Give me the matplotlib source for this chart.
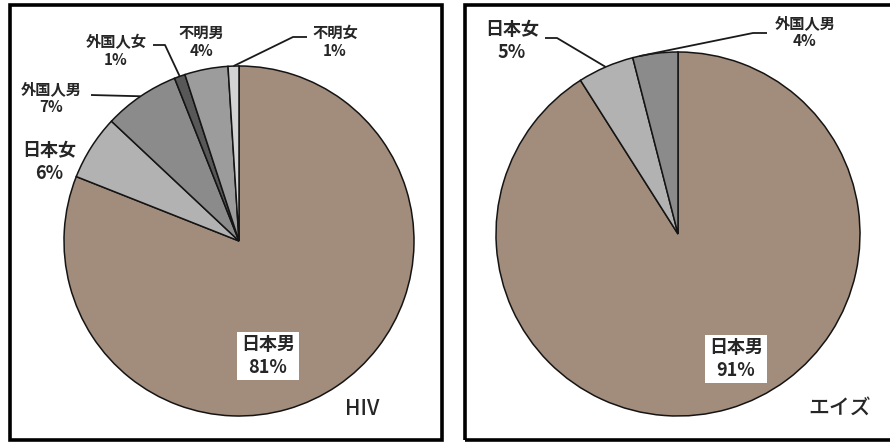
import numpy as np
import matplotlib
matplotlib.use('Agg')
from matplotlib import pyplot as plt
from matplotlib.patches import Rectangle

plt.rcParams['font.family'] = ['Noto Sans CJK JP', 'DejaVu Sans']

# HIV / AIDS reports by nationality and sex (percent)
hiv_labels = ['日本男', '日本女', '外国人男', '外国人女', '不明男', '不明女']
hiv_values = [81, 6, 7, 1, 4, 1]
aids_labels = ['日本男', '日本女', '外国人男']
aids_values = [91, 5, 4]

colors = {
    '日本男': '#a28c7c',
    '日本女': '#b2b2b2',
    '外国人男': '#8b8b8b',
    '外国人女': '#585858',
    '不明男': '#9c9c9c',
    '不明女': '#d3d3d3',
}

W, H = 890, 443
TEXT = '#262626'


def px_axes(fig, cx, cy, r):
    ''' square axes (pixel centre/radius) so the pie has radius 1 in data units '''
    ax = fig.add_axes([(cx - r) / W, (H - cy - r) / H, 2 * r / W, 2 * r / H])
    return ax


def to_data(p, cx, cy, r):
    return ((p[0] - cx) / r, (cy - p[1]) / r)


def draw_panel(fig, cx, cy, r, labels, values, layout, title, title_pos):
    ax = px_axes(fig, cx, cy, r)
    wedges, _ = ax.pie(values, colors=[colors[k] for k in labels], startangle=90,
                       counterclock=False, radius=1,
                       wedgeprops=dict(edgecolor='#141414', linewidth=1.1))
    ax.set_xlim(-1, 1)
    ax.set_ylim(-1, 1)
    ax.axis('off')

    for wedge, name, val in zip(wedges, labels, values):
        spec = layout[name]
        x, y = to_data(spec['pos'], cx, cy, r)
        kw = dict(ha='center', va='center', color=TEXT, weight='bold',
                  fontsize=spec['size'], linespacing=spec.get('ls', 1.2), clip_on=False)
        if spec.get('box'):
            kw['bbox'] = dict(boxstyle='square,pad=0.2', facecolor='white', edgecolor='none')
        ax.text(x, y, f'{name}\n{val}%', **kw)

        if 'leader' in spec:
            # leader line: text side -> elbow -> point on the wedge rim
            frac = spec.get('frac', 0.5)
            ang = np.deg2rad(wedge.theta1 + frac * (wedge.theta2 - wedge.theta1))
            start, elbow = spec['leader']
            sx, sy = to_data(start, cx, cy, r)
            ex, ey = to_data(elbow, cx, cy, r)
            ax.plot([sx, ex, np.cos(ang)], [sy, ey, np.sin(ang)], color='#1a1a1a',
                    linewidth=1.3, clip_on=False, solid_capstyle='butt')

    tx, ty = to_data(title_pos, cx, cy, r)
    ax.text(tx, ty, title, ha='center', va='center', fontsize=15, weight='medium',
            color=TEXT, clip_on=False)


fig = plt.figure(figsize=(W / 100, H / 100), dpi=100)
fig.patch.set_facecolor('white')

# panel frames
for x0, x1 in [(10, 442), (465, 894)]:
    fig.add_artist(Rectangle((x0 / W, (H - 440) / H), (x1 - x0) / W, 435 / H,
                             transform=fig.transFigure, fill=False,
                             edgecolor='black', linewidth=2.6))

hiv_layout = {
    '日本男': dict(pos=(268, 356), size=13, ls=1.25, box=True),
    '日本女': dict(pos=(49, 162), size=13, ls=1.3),
    '外国人男': dict(pos=(51, 98), size=11, ls=1.1, leader=((91, 95), (130, 96))),
    '外国人女': dict(pos=(116, 51), size=11, ls=1.1, leader=((153, 45), (165, 45))),
    '不明男': dict(pos=(201, 42), size=11, ls=1.1),
    '不明女': dict(pos=(335, 42), size=11, ls=1.1, leader=((307, 37), (293, 37))),
}
aids_layout = {
    '日本男': dict(pos=(736, 359), size=13, ls=1.25, box=True),
    '日本女': dict(pos=(512, 41), size=13, ls=1.3, leader=((545, 38), (557, 38))),
    '外国人男': dict(pos=(805, 32), size=11, ls=1.1, leader=((767, 33), (753, 33)), frac=0.85),
}

draw_panel(fig, 239, 241, 175, hiv_labels, hiv_values, hiv_layout, 'HIV', (362, 409))
draw_panel(fig, 678, 234, 182, aids_labels, aids_values, aids_layout, 'エイズ', (840, 408))

fig.savefig('out.png', dpi=100, facecolor='white')
